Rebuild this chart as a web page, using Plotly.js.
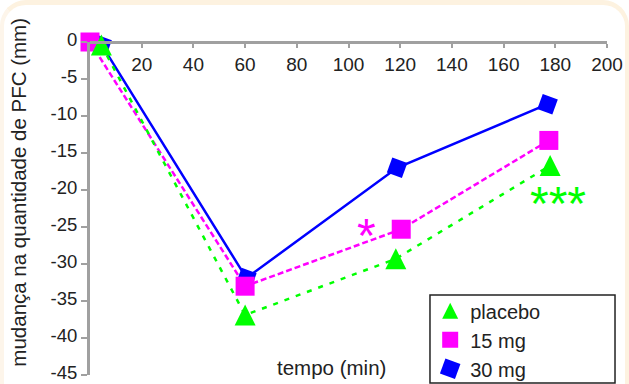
<!DOCTYPE html>
<html>
<head>
<meta charset="utf-8">
<script src="https://cdn.plot.ly/plotly-3.0.1.min.js"></script>
<style>
  html, body { margin: 0; padding: 0; background: #ffffff; width: 629px; height: 384px; overflow: hidden; }
  #frame { position: absolute; left: 0; top: 0; width: 629px; height: 430px; box-sizing: border-box;
           border-top: 5px solid #fdf2e0; border-left: 4px solid #fdf5ea; border-right: 4px solid #fdf2e0;
           border-radius: 26px; }
  #chart { position: absolute; left: 0; top: 0; width: 629px; height: 400px; }
</style>
</head>
<body>
<div id="frame"></div>
<div id="chart"></div>
<script>
// ---- data ----
const seriesNames = ["placebo", "15 mg", "30 mg"];
const placeboTime = [4.4, 60, 118.3, 178];
const placeboValues = [-0.4, -36.9, -29.3, -16.7];
const mg15Time = [0, 60, 120.4, 177.5];
const mg15Values = [0, -33, -25.3, -13.3];
const mg30Time = [4.5, 60.5, 118.8, 177];
const mg30Values = [-0.4, -31.9, -17.0, -8.4];
const xTickValues = [20, 40, 60, 80, 100, 120, 140, 160, 180, 200];
const yTickValues = [0, -5, -10, -15, -20, -25, -30, -35, -40, -45];
const yTickLabels = ["0", "-5", "-10", "-15", "-20", "-25", "-30", "-35", "-40", "-45"];
const xTitle = "tempo (min)";
const yTitle = "mudança na quantidade de PFC (mm)";
const sigMarks = ["*", "***"];

const GREEN = "#00ff00", MAGENTA = "#ff00ff", BLUE = "#0000ff";
const FONT = "Liberation Sans, Arial, sans-serif";
const TXT = "#222222";

// tall upward triangle centred on the point (arrow-down turned 180°, pushed back by its half height)
const triMarker = { symbol: "arrow-down", angle: 180, size: 21, standoff: 10.5, color: GREEN, line: { width: 0 } };
// in the legend plotly negates the standoff, so an arrow-up moved by its half height is centred
const triLegendMarker = { symbol: "arrow-up", angle: 0, size: 16, standoff: 8, color: GREEN, line: { width: 0 } };
const sqMarker = { symbol: "square", size: 19, color: MAGENTA, line: { width: 0 } };
const diaMarker = { symbol: "square", angle: 20, size: 16, color: BLUE, line: { width: 0 } };

const traces = [
  { x: mg30Time, y: mg30Values, mode: "lines+markers", showlegend: false, cliponaxis: false,
    line: { color: BLUE, width: 2.5, backoff: 0 }, marker: diaMarker },
  { x: mg15Time, y: mg15Values, mode: "lines+markers", showlegend: false, cliponaxis: false,
    line: { color: MAGENTA, width: 2.5, dash: "6px,3px", backoff: 0 }, marker: sqMarker },
  { x: placeboTime, y: placeboValues, mode: "lines+markers", showlegend: false, cliponaxis: false,
    line: { color: GREEN, width: 2.5, dash: "5px,7px", backoff: 0 }, marker: triMarker },
  // legend-only entries (markers only, as in the reference legend)
  { x: [null], y: [null], mode: "markers", name: seriesNames[0], marker: triLegendMarker },
  { x: [null], y: [null], mode: "markers", name: seriesNames[1], marker: sqMarker },
  { x: [null], y: [null], mode: "markers", name: seriesNames[2], marker: diaMarker }
];

// plot area: x 90..607 px, y 42..375 px (paper is 400 tall, window shows 384)
const layout = {
  width: 629, height: 400,
  margin: { l: 90, r: 22, t: 42, b: 25, pad: 0, autoexpand: false },
  paper_bgcolor: "rgba(0,0,0,0)",
  plot_bgcolor: "rgba(0,0,0,0)",
  font: { family: FONT, color: TXT, size: 19 },
  showlegend: true,
  xaxis: {
    range: [0, 200], anchor: "free", position: 1, side: "bottom",
    tickvals: xTickValues, ticks: "outside", ticklen: 4, tickwidth: 2, tickcolor: "#a0a0a0",
    showline: true, linecolor: "#a0a0a0", linewidth: 3, showgrid: false, zeroline: false,
    tickfont: { family: FONT, size: 19, color: TXT }
  },
  yaxis: {
    range: [-45, 0], domain: [0, 1],
    tickvals: yTickValues, ticktext: yTickLabels, ticks: "outside", ticklen: 6, tickwidth: 2, tickcolor: "#a0a0a0",
    showline: true, linecolor: "#a0a0a0", linewidth: 3, showgrid: false, zeroline: false,
    ticklabelshift: -2,
    tickfont: { family: FONT, size: 18.5, color: TXT }
  },
  legend: {
    x: 0.658, y: 0.2515, xanchor: "left", yanchor: "top",
    bgcolor: "rgba(0,0,0,0)", borderwidth: 0,
    font: { family: FONT, size: 20, color: TXT },
    traceorder: "normal", tracegroupgap: 0
  },
  shapes: [
    { type: "rect", xref: "paper", yref: "paper", x0: 0.6576, x1: 1.0155, y0: -0.024, y1: 0.2405,
      line: { color: "#222222", width: 1.5 }, fillcolor: "rgba(0,0,0,0)", layer: "above" }
  ],
  annotations: [
    { text: yTitle, xref: "paper", yref: "paper", x: -0.139, y: 0.548, textangle: -90,
      showarrow: false, xanchor: "center", yanchor: "middle", font: { family: FONT, size: 20.5, color: TXT } },
    { text: xTitle, xref: "paper", yref: "paper", x: 0.467, y: 0.024,
      showarrow: false, xanchor: "center", yanchor: "middle", font: { family: FONT, size: 20.5, color: TXT } },
    { text: sigMarks[0], xref: "x", yref: "y", x: 106.9, y: -24.9, yshift: -9,
      showarrow: false, xanchor: "center", yanchor: "middle", font: { family: FONT, size: 48, color: MAGENTA } },
    { text: sigMarks[1], xref: "x", yref: "y", x: 181, y: -20.6, yshift: -9,
      showarrow: false, xanchor: "center", yanchor: "middle", font: { family: FONT, size: 48, color: GREEN } }
  ]
};

Plotly.newPlot("chart", traces, layout, { displayModeBar: false, staticPlot: true });
</script>
</body>
</html>
